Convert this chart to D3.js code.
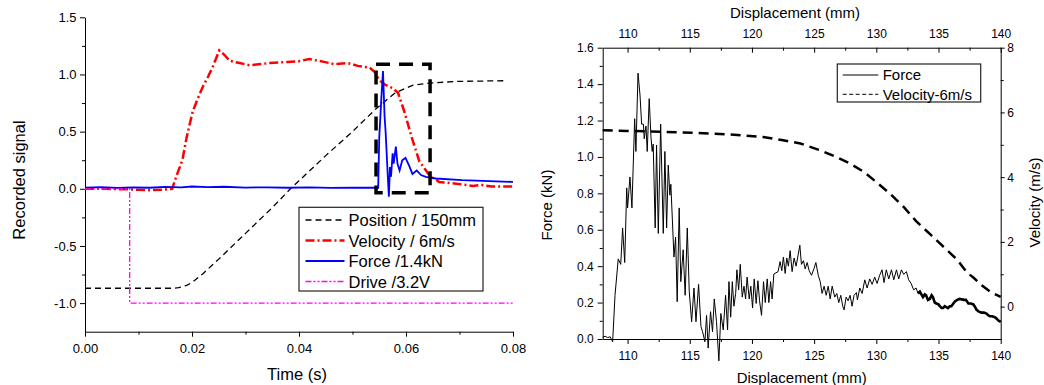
<!DOCTYPE html>
<html><head><meta charset="utf-8">
<script src="https://cdn.jsdelivr.net/npm/d3@7"></script>
<style>
body{margin:0;background:#fff;}
svg{display:block;font-family:"Liberation Sans",Arial,sans-serif;}
</style></head><body>
<svg id="c" width="1044" height="385"></svg>
<script>
// ---------- LEFT CHART DATA ----------
const leftXTicks = [0, 0.02, 0.04, 0.06, 0.08];
const leftXTickLabels = ["0.00", "0.02", "0.04", "0.06", "0.08"];
const leftXMinor = [0.01, 0.03, 0.05, 0.07];
const leftYTicks = [-1, -0.5, 0, 0.5, 1, 1.5];
const leftYTickLabels = ["-1.0", "-0.5", "0.0", "0.5", "1.0", "1.5"];
const leftYMinor = [-0.75, -0.25, 0.25, 0.75, 1.25];

const positionData = [[0,-0.87],[0.0165,-0.87],[0.0175,-0.865],[0.019,-0.845],[0.02,-0.82],[0.022,-0.745],[0.025,-0.615],[0.03,-0.39],[0.035,-0.165],[0.0384,0.0],[0.04,0.07],[0.045,0.29],[0.05,0.5],[0.0544,0.70],[0.058,0.84],[0.06,0.88],[0.0612,0.905],[0.0643,0.925],[0.07,0.94],[0.0785,0.945]];
const velocityData = [[0,0],[0.004,0.0],[0.008,-0.005],[0.012,-0.012],[0.0145,-0.008],[0.0163,0.0],[0.017,0.1],[0.0182,0.25],[0.019,0.45],[0.0201,0.67],[0.021,0.78],[0.022,0.89],[0.023,0.98],[0.0239,1.07],[0.0245,1.14],[0.0251,1.21],[0.0261,1.17],[0.027,1.12],[0.0289,1.10],[0.0308,1.08],[0.0325,1.09],[0.0346,1.10],[0.0378,1.11],[0.04,1.115],[0.0419,1.135],[0.0447,1.11],[0.0466,1.09],[0.0491,1.10],[0.051,1.075],[0.0532,1.06],[0.0542,1.02],[0.055,0.95],[0.0561,0.91],[0.0575,0.88],[0.0585,0.84],[0.0598,0.66],[0.061,0.46],[0.0625,0.24],[0.0645,0.11],[0.0662,0.06],[0.0694,0.045],[0.0725,0.025],[0.074,0.035],[0.076,0.02],[0.08,0.02]];
const forceData = [[0,0.01],[0.003,0.014],[0.006,0.008],[0.009,0.013],[0.012,0.009],[0.015,0.016],[0.018,0.012],[0.02,0.02],[0.023,0.014],[0.026,0.018],[0.03,0.011],[0.034,0.013],[0.038,0.009],[0.042,0.012],[0.046,0.008],[0.05,0.011],[0.0548,0.009],[0.0550,0.45],[0.0554,0.80],[0.0557,1.03],[0.0560,0.63],[0.0562,0.49],[0.0566,0.105],[0.0568,-0.07],[0.0570,0.19],[0.0572,0.105],[0.0575,0.31],[0.0577,0.22],[0.0581,0.37],[0.0584,0.22],[0.0588,0.16],[0.0593,0.25],[0.0599,0.27],[0.0606,0.20],[0.0612,0.13],[0.062,0.16],[0.0628,0.12],[0.0637,0.105],[0.0656,0.09],[0.0705,0.075],[0.08,0.06]];
const driveData = [[0,0],[0.00835,0],[0.00835,-1],[0.08,-1]];
const zoomBox = [0.0544, 0.0645, -0.035, 1.09];
const leftLegend = ["Position / 150mm", "Velocity / 6m/s", "Force /1.4kN", "Drive /3.2V"];

// ---------- RIGHT CHART DATA ----------
const rightXTicks = [110, 115, 120, 125, 130, 135, 140];
const rightXMinor = [112.5, 117.5, 122.5, 127.5, 132.5, 137.5];
const rightYLTicks = [0, 0.2, 0.4, 0.6, 0.8, 1.0, 1.2, 1.4, 1.6];
const rightYLMinor = [0.1, 0.3, 0.5, 0.7, 0.9, 1.1, 1.3, 1.5];
const rightYRTicks = [0, 2, 4, 6, 8];
const rightYRMinor = [1, 3, 5, 7];
const dispForce = [[108.0,0.01],[108.2,0.015],[108.4,0.008],[108.6,0.012],[108.8,-0.015],[108.99,0.24],[109.25,0.44],[109.45,0.41],[109.6,0.61],[109.77,0.42],[109.93,0.83],[110.0,0.72],[110.19,0.89],[110.35,0.72],[110.57,1.21],[110.67,1.03],[110.84,1.46],[111.0,1.34],[111.13,1.18],[111.27,1.18],[111.34,1.10],[111.48,1.17],[111.58,1.03],[111.74,1.32],[111.88,1.11],[111.98,1.03],[112.06,1.07],[112.22,0.61],[112.33,1.065],[112.47,0.58],[112.66,1.18],[112.87,0.58],[113.0,1.03],[113.14,0.61],[113.27,0.955],[113.4,0.79],[113.48,0.85],[113.73,0.45],[113.86,0.56],[113.99,0.205],[114.15,0.72],[114.28,0.315],[114.47,0.49],[114.63,0.24],[114.8,0.61],[114.96,0.26],[115.15,0.095],[115.34,0.28],[115.5,0.095],[115.71,0.30],[115.9,0.068],[116.03,0.04],[116.22,-0.015],[116.35,0.13],[116.48,-0.05],[116.67,0.15],[116.83,0.04],[116.97,0.22],[117.15,0.095],[117.34,-0.12],[117.5,0.14],[117.69,0.05],[117.88,0.24],[118.04,0.05],[118.15,0.315],[118.29,0.12],[118.42,0.315],[118.55,0.18],[118.69,0.25],[118.79,0.38],[118.93,0.27],[119.06,0.41],[119.22,0.23],[119.36,0.29],[119.49,0.22],[119.61,0.34],[119.78,0.22],[119.91,0.29],[120.05,0.17],[120.18,0.33],[120.34,0.195],[120.48,0.32],[120.61,0.21],[120.77,0.13],[120.93,0.315],[121.07,0.20],[121.23,0.33],[121.36,0.20],[121.5,0.315],[121.62,0.22],[121.76,0.357],[122.1,0.37],[122.26,0.425],[122.4,0.375],[122.53,0.45],[122.67,0.36],[122.8,0.445],[122.93,0.40],[123.07,0.485],[123.23,0.37],[123.39,0.445],[123.55,0.40],[123.71,0.46],[123.85,0.515],[123.98,0.41],[124.14,0.43],[124.28,0.385],[124.44,0.42],[124.6,0.375],[124.79,0.35],[124.98,0.385],[125.14,0.42],[125.33,0.35],[125.49,0.315],[125.64,0.25],[125.8,0.29],[125.97,0.24],[126.13,0.29],[126.29,0.22],[126.45,0.29],[126.66,0.23],[126.82,0.25],[126.98,0.20],[127.14,0.24],[127.3,0.18],[127.41,0.16],[127.57,0.23],[127.73,0.21],[127.89,0.24],[128.05,0.18],[128.21,0.24],[128.4,0.255],[128.48,0.215],[128.67,0.28],[128.86,0.25],[129.07,0.325],[129.26,0.28],[129.47,0.33],[129.66,0.30],[129.87,0.34],[130.06,0.305],[130.27,0.35],[130.46,0.38],[130.62,0.31],[130.8,0.38],[131.0,0.33],[131.22,0.38],[131.4,0.325],[131.62,0.38],[131.8,0.33],[132.02,0.38],[132.2,0.355],[132.42,0.37],[132.6,0.325],[132.8,0.305],[133.0,0.27],[133.2,0.28],[133.35,0.25],[133.5,0.26],[133.75,0.23],[133.9,0.245],[134.0,0.24],[134.15,0.215],[134.3,0.22],[134.45,0.24],[134.55,0.23],[134.7,0.2],[134.83,0.195],[135.0,0.19],[135.1,0.18],[135.25,0.17],[135.36,0.17],[135.5,0.18],[135.76,0.17],[135.9,0.18],[136.03,0.18],[136.3,0.205],[136.5,0.215],[136.7,0.22],[137.05,0.215],[137.2,0.215],[137.4,0.195],[137.6,0.195],[137.8,0.19],[137.95,0.175],[138.06,0.16],[138.25,0.15],[138.46,0.145],[138.65,0.145],[138.86,0.14],[139.0,0.13],[139.13,0.125],[139.3,0.125],[139.53,0.12],[139.7,0.11],[139.83,0.10],[140,0.095]];
const dispVelocity = [[108,5.45],[110,5.43],[112.9,5.40],[115.6,5.37],[118.25,5.32],[120.9,5.24],[122.5,5.14],[123.9,5.04],[125.5,4.83],[126.8,4.62],[127.9,4.42],[129,4.16],[130,3.85],[131.1,3.49],[132.2,3.08],[133.2,2.64],[134.43,2.2],[135.4,1.85],[136.5,1.45],[137.3,1.05],[137.8,0.90],[138.5,0.65],[139.2,0.45],[140,0.30]];
const rightLegend = ["Force", "Velocity-6m/s"];

// ---------- DRAW ----------
const svg = d3.select("#c");
const FONT = '"Liberation Sans", Arial, sans-serif';

function styleAxis(g, fs) {
  g.attr("font-family", FONT).attr("font-size", fs);
  g.selectAll(".domain").attr("stroke", "#000").attr("stroke-width", 1);
  g.selectAll(".tick line").attr("stroke", "#000").attr("stroke-width", 1);
  g.selectAll(".tick text").attr("fill", "#000");
}
function minor(g) { g.select(".domain").remove(); g.selectAll(".tick line").attr("stroke", "#000"); }

// LEFT
const xL = d3.scaleLinear().domain([0, 0.08]).range([85, 513]);
const yL = d3.scaleLinear().domain([-1.25, 1.5]).range([331.7, 17.3]);
const gL = svg.append("g");

gL.append("g").attr("transform", "translate(0,331.7)")
  .call(d3.axisBottom(xL).tickValues(leftXTicks).tickSize(5).tickPadding(7).tickSizeOuter(0)
    .tickFormat((d, i) => leftXTickLabels[i])).call(g => styleAxis(g, 13));
gL.append("g").attr("transform", "translate(0,331.7)")
  .call(d3.axisBottom(xL).tickValues(leftXMinor).tickSize(3).tickFormat("")).call(minor);
gL.append("g").attr("transform", "translate(85,0)")
  .call(d3.axisLeft(yL).tickValues(leftYTicks).tickSize(5).tickPadding(3.5).tickSizeOuter(0)
    .tickFormat((d, i) => leftYTickLabels[i])).call(g => styleAxis(g, 13));
gL.append("g").attr("transform", "translate(85,0)")
  .call(d3.axisLeft(yL).tickValues(leftYMinor).tickSize(3).tickFormat("")).call(minor);

gL.append("text").attr("transform", "translate(19,180) rotate(-90)").attr("dy", "0.35em")
  .attr("text-anchor", "middle").attr("font-size", 16.5).attr("font-family", FONT).text("Recorded signal");
gL.append("text").attr("x", 297).attr("y", 380).attr("text-anchor", "middle")
  .attr("font-size", 16.5).attr("font-family", FONT).text("Time (s)");

const lineL = d3.line().x(d => xL(d[0])).y(d => yL(d[1]));
const leftStyles = [
  {data: positionData, color: "#000", w: 1.3, dash: "6,4"},
  {data: velocityData, color: "#ff0000", w: 2.5, dash: "9,3,2,3"},
  {data: forceData, color: "#0000ff", w: 1.8, dash: null},
  {data: driveData, color: "#ff00ff", w: 1.3, dash: "6,2,2,2,2,2"}
];
leftStyles.forEach(s => {
  gL.append("path").datum(s.data).attr("d", lineL).attr("fill", "none")
    .attr("stroke", s.color).attr("stroke-width", s.w).attr("stroke-dasharray", s.dash);
});
gL.append("rect").attr("x", xL(zoomBox[0])).attr("y", yL(zoomBox[3]))
  .attr("width", xL(zoomBox[1]) - xL(zoomBox[0])).attr("height", yL(zoomBox[2]) - yL(zoomBox[3]))
  .attr("fill", "none").attr("stroke", "#000").attr("stroke-width", 3.5).attr("stroke-dasharray", "14,9");

const lgL = gL.append("g");
lgL.append("rect").attr("x", 299).attr("y", 207.3).attr("width", 184).attr("height", 83.7)
  .attr("fill", "#fff").attr("stroke", "#222").attr("stroke-width", 1.2);
leftLegend.forEach((t, i) => {
  const cy = 220 + i * 20.5;
  const s = leftStyles[i];
  lgL.append("line").attr("x1", 305.5).attr("x2", 344.5).attr("y1", cy).attr("y2", cy)
    .attr("stroke", s.color).attr("stroke-width", s.w).attr("stroke-dasharray", s.dash);
  lgL.append("text").attr("x", 348.5).attr("y", cy + 6).attr("font-size", 16.5)
    .attr("font-family", FONT).text(t);
});

// RIGHT
const xR = d3.scaleLinear().domain([108, 140]).range([602.7, 1000.7]);
const yRL = d3.scaleLinear().domain([0, 1.6]).range([339, 47.7]);
const yRR = d3.scaleLinear().domain([-1, 8]).range([339, 47.7]);
const gR = svg.append("g");

gR.append("g").attr("transform", "translate(0,339)")
  .call(d3.axisBottom(xR).tickValues(rightXTicks).tickSize(5).tickPadding(7).tickSizeOuter(0)
    .tickFormat(d3.format("d"))).call(g => styleAxis(g, 12));
gR.append("g").attr("transform", "translate(0,339)")
  .call(d3.axisBottom(xR).tickValues(rightXMinor).tickSize(3).tickFormat("")).call(minor);
gR.append("g").attr("transform", "translate(0,47.7)")
  .call(d3.axisTop(xR).tickValues(rightXTicks).tickSizeInner(-5).tickPadding(10).tickSizeOuter(0)
    .tickFormat(d3.format("d"))).call(g => styleAxis(g, 12));
gR.append("g").attr("transform", "translate(0,47.7)")
  .call(d3.axisTop(xR).tickValues(rightXMinor).tickSizeInner(-3).tickFormat("")).call(minor);
gR.append("g").attr("transform", "translate(602.7,0)")
  .call(d3.axisLeft(yRL).tickValues(rightYLTicks).tickSize(5).tickPadding(4).tickSizeOuter(0)
    .tickFormat(d3.format(".1f"))).call(g => styleAxis(g, 12));
gR.append("g").attr("transform", "translate(602.7,0)")
  .call(d3.axisLeft(yRL).tickValues(rightYLMinor).tickSize(3).tickFormat("")).call(minor);
gR.append("g").attr("transform", "translate(1000.7,0)")
  .call(d3.axisRight(yRR).tickValues(rightYRTicks).tickSize(4).tickPadding(2.5).tickSizeOuter(0)
    .tickFormat(d3.format("d"))).call(g => styleAxis(g, 12));
gR.append("g").attr("transform", "translate(1000.7,0)")
  .call(d3.axisRight(yRR).tickValues(rightYRMinor).tickSize(3).tickFormat("")).call(minor);

gR.append("text").attr("x", 795).attr("y", 17.5).attr("text-anchor", "middle")
  .attr("font-size", 15).attr("font-family", FONT).text("Displacement (mm)");
gR.append("text").attr("x", 801.7).attr("y", 382.5).attr("text-anchor", "middle")
  .attr("font-size", 15).attr("font-family", FONT).text("Displacement (mm)");
gR.append("text").attr("transform", "translate(546.7,205) rotate(-90)").attr("dy", "0.35em")
  .attr("text-anchor", "middle").attr("font-size", 15).attr("font-family", FONT).text("Force (kN)");
gR.append("text").attr("transform", "translate(1035,202.5) rotate(-90)").attr("dy", "0.35em")
  .attr("text-anchor", "middle").attr("font-size", 15).attr("font-family", FONT).text("Velocity (m/s)");

gR.append("path").datum(dispVelocity)
  .attr("d", d3.line().x(d => xR(d[0])).y(d => yRR(d[1])))
  .attr("fill", "none").attr("stroke", "#000").attr("stroke-width", 2.5).attr("stroke-dasharray", "10,6");
const lineRF = d3.line().x(d => xR(d[0])).y(d => yRL(d[1]));
gR.append("path").datum(dispForce).attr("d", lineRF)
  .attr("fill", "none").attr("stroke", "#000").attr("stroke-width", 1);
gR.append("path").datum(dispForce.filter(d => d[0] >= 133.3)).attr("d", lineRF)
  .attr("fill", "none").attr("stroke", "#000").attr("stroke-width", 2.6);

const lgR = gR.append("g");
lgR.append("rect").attr("x", 837.3).attr("y", 64).attr("width", 143.4).attr("height", 38)
  .attr("fill", "#fff").attr("stroke", "#222").attr("stroke-width", 1.2);
const rightLegendStyles = [{w: 1, dash: null}, {w: 1, dash: "4,2.5"}];
rightLegend.forEach((t, i) => {
  const cy = 75 + i * 19.3;
  lgR.append("line").attr("x1", 842.7).attr("x2", 878.3).attr("y1", cy).attr("y2", cy)
    .attr("stroke", "#000").attr("stroke-width", rightLegendStyles[i].w)
    .attr("stroke-dasharray", rightLegendStyles[i].dash);
  lgR.append("text").attr("x", 882.7).attr("y", cy + 5.4).attr("font-size", 15)
    .attr("font-family", FONT).text(t);
});
</script>
</body></html>
